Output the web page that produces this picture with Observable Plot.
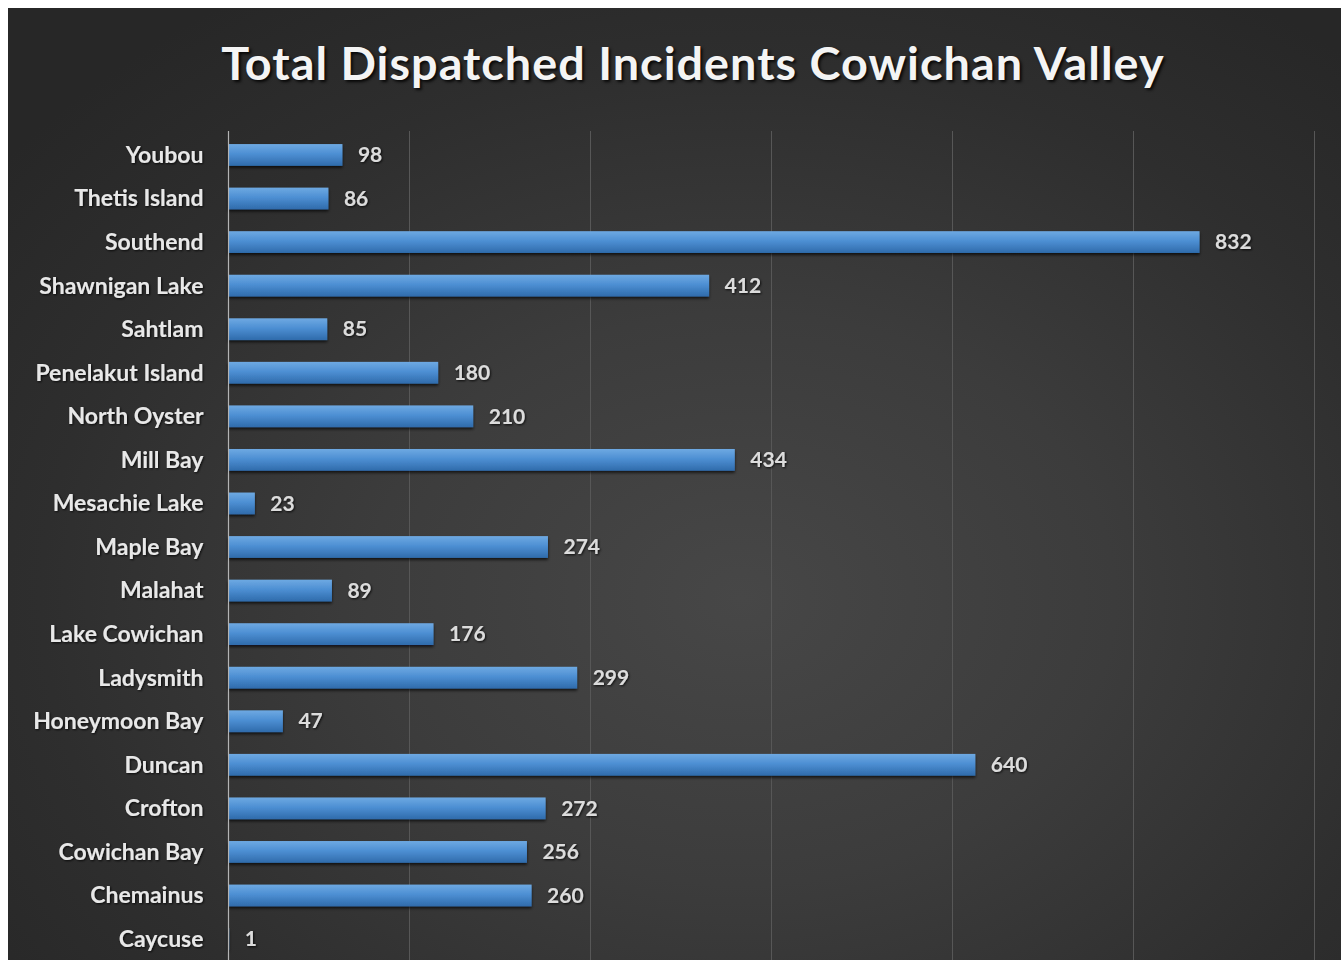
<!DOCTYPE html>
<html><head><meta charset="utf-8">
<script src="https://cdn.jsdelivr.net/npm/d3@7"></script>
<script src="https://cdn.jsdelivr.net/npm/@observablehq/plot@0.6"></script>
<style>
html,body{margin:0;padding:0;background:#fff;}
#frame{position:relative;width:1341px;height:960px;overflow:hidden;background:#fff;}
#panel{position:absolute;left:8px;top:8px;width:1333px;height:952px;overflow:hidden;
  background:radial-gradient(ellipse 70% 75% at 55% 62%, #474747 0%, #3c3c3c 40%, #2e2e2e 75%, #272727 100%);}
#title{position:absolute;left:685px;top:32px;font-family:Lato,"Open Sans",sans-serif;font-weight:bold;font-size:46px;line-height:1;
  color:#f4f4f4;white-space:nowrap;text-shadow:2px 2px 3px rgba(0,0,0,0.85);transform-origin:50% 50%;letter-spacing:1px;}
#chart{position:absolute;left:0;top:92px;}
</style></head>
<body>
<div id="frame"><div id="panel"><div id="title">Total Dispatched Incidents Cowichan Valley</div><div id="chart"></div></div></div>
<script>
const categories = ["Youbou","Thetis Island","Southend","Shawnigan Lake","Sahtlam","Penelakut Island","North Oyster","Mill Bay","Mesachie Lake","Maple Bay","Malahat","Lake Cowichan","Ladysmith","Honeymoon Bay","Duncan","Crofton","Cowichan Bay","Chemainus","Caycuse"];
const values = [98,86,832,412,85,180,210,434,23,274,89,176,299,47,640,272,256,260,1];
const gridTicks = [155,310,465,620,775,930];

const data = categories.map((c,i)=>({category:c, value:values[i]}));

// fit title width
const titleEl = document.getElementById("title");
const ctx = document.createElement("canvas").getContext("2d");
ctx.font = "bold 46px Lato";
const txt = titleEl.textContent;
const w = ctx.measureText(txt).width + txt.length * 1;
titleEl.style.transform = `translateX(-50%) scaleX(${945 / w})`;

const svg = Plot.plot({
  width: 1333,
  height: 863,
  marginLeft: 220,
  marginRight: 27,
  marginTop: 31,
  marginBottom: 0,
  style: {background: "transparent", fontFamily: "Lato, 'Open Sans', sans-serif", color: "#e6e6e6"},
  x: {domain: [0, 930], axis: null},
  y: {domain: categories, paddingInner: 0.5, paddingOuter: 0.3, round: false, axis: null},
  marks: [
    Plot.ruleX(gridTicks, {stroke: "#575757", strokeWidth: 1}),
    Plot.barX(data, {x: "value", y: "category", fill: "url(#barGrad)"}),
    Plot.ruleX([0], {stroke: "#b4b4b4", strokeWidth: 1.2}),
    Plot.axisY({tickSize: 0, tickPadding: 25, fontSize: 23, fontWeight: "bold", fill: "#e8e8e8", label: null}),
    Plot.text(data, {x: "value", y: "category", text: d => String(d.value), dx: 15, textAnchor: "start",
      fill: "#dcdcdc", fontSize: 21, fontWeight: "bold"})
  ]
});
svg.insertAdjacentHTML("afterbegin", `<defs>
  <linearGradient id="barGrad" x1="0" y1="0" x2="0" y2="1">
    <stop offset="0" stop-color="#6ea9e2"/>
    <stop offset="0.45" stop-color="#4d8fd3"/>
    <stop offset="1" stop-color="#2f6bab"/>
  </linearGradient>
  <filter id="barShadow" x="-5%" y="-30%" width="110%" height="170%">
    <feDropShadow dx="0" dy="2" stdDeviation="1.5" flood-color="#000" flood-opacity="0.7"/>
  </filter>
  <filter id="textShadow" x="-10%" y="-30%" width="120%" height="160%">
    <feDropShadow dx="1" dy="1" stdDeviation="1" flood-color="#000" flood-opacity="0.8"/>
  </filter>
</defs>`);
const barG = svg.querySelector('g[aria-label="bar"]');
if (barG) barG.setAttribute("filter", "url(#barShadow)");
svg.querySelectorAll('g[aria-label="text"], g[aria-label="y-axis tick label"]').forEach(g => g.setAttribute("filter", "url(#textShadow)"));
document.getElementById("chart").appendChild(svg);
</script>
</body></html>
